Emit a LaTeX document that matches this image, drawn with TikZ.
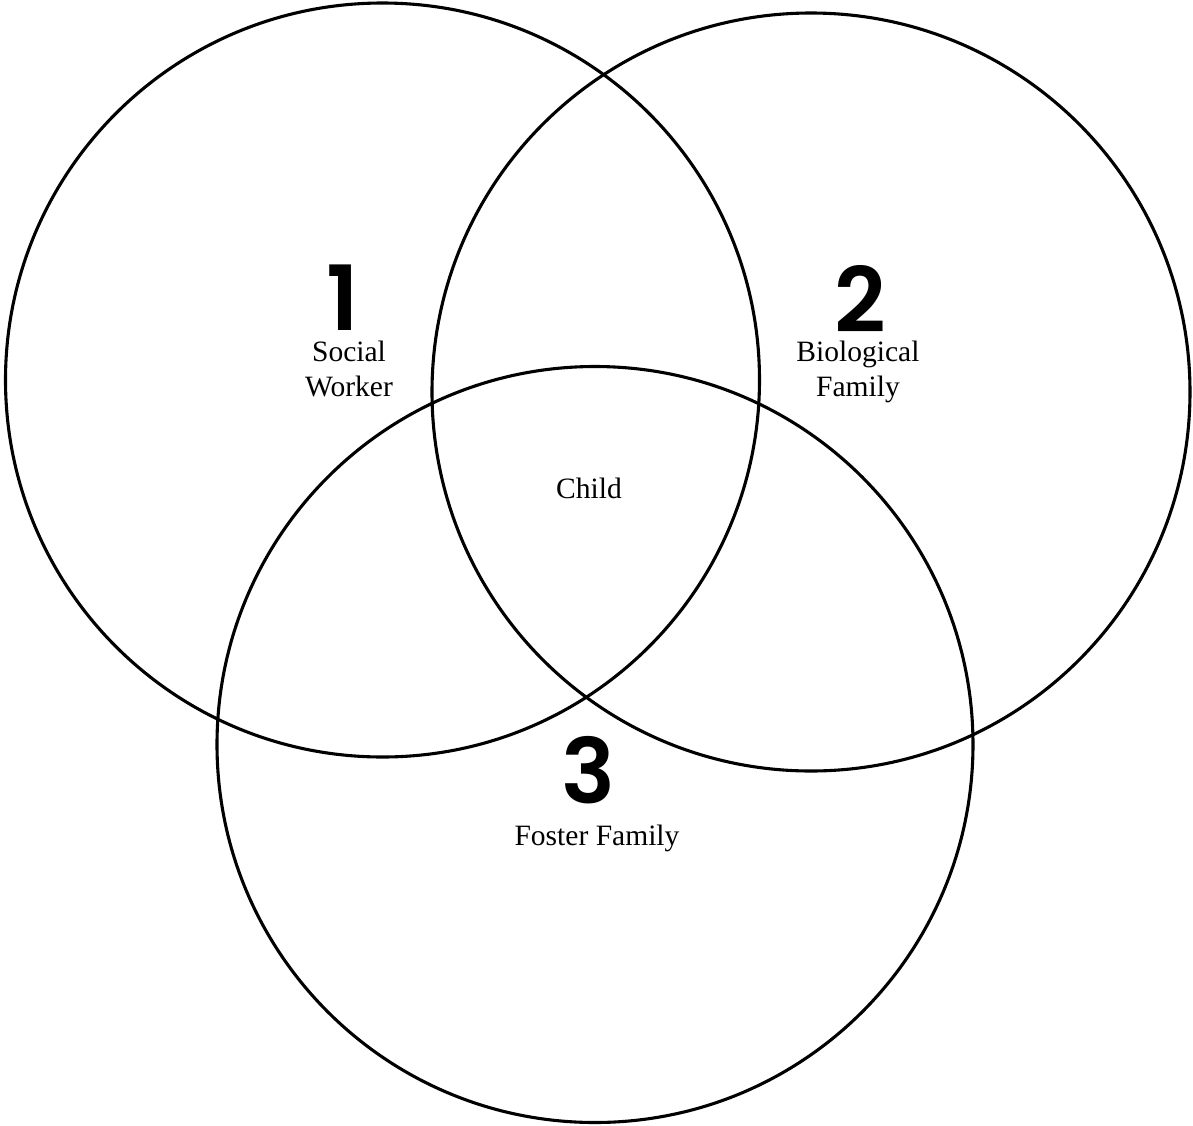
\documentclass[tikz,border=0pt]{standalone}
\usepackage{fontspec}
\setmainfont{Liberation Serif}
\newfontfamily\numfont[UprightFont={* SemiBold}]{Poppins}
\begin{document}
\begin{tikzpicture}[x=0.025cm,y=-0.025cm,
  ring/.style={draw=black,line width=2.2pt},
  bignum/.style={font=\numfont\fontsize{64}{64}\selectfont,inner sep=0pt,anchor=base},
  lbl/.style={font=\fontsize{21}{25}\selectfont,align=center,inner sep=0pt}]
\useasboundingbox (0,0) rectangle (1193,1126);
\draw[ring] (382.5,380) circle[radius=377];
\draw[ring] (811,392) circle[radius=379];
\draw[ring] (595,744.5) circle[radius=378];
\node[bignum] (n1) at (343,330) {1};
\node[lbl] (t1) at (349,369) {Social\\Worker};
\node[bignum] (n2) at (860,332) {2};
\node[lbl] (t2) at (858,372) {Biological\\Family};
\node[lbl] (child) at (589,488) {Child};
\node[bignum] (n3) at (588,803) {3};
\node[lbl] (t3) at (597,838) {Foster Family};
\end{tikzpicture}
\end{document}
